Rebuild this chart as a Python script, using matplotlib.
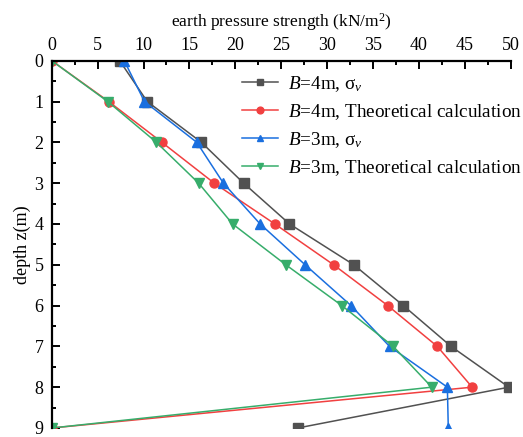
import matplotlib
matplotlib.use("Agg")
import matplotlib.pyplot as plt
import numpy as np

plt.rcParams['font.family'] = ['Liberation Serif', 'DejaVu Serif']
plt.rcParams['mathtext.fontset'] = 'custom'
plt.rcParams['mathtext.rm'] = 'Liberation Serif'
plt.rcParams['mathtext.it'] = 'Liberation Serif:italic'

# depth (m)
depth = [0, 1, 2, 3, 4, 5, 6, 7, 8, 9]

# earth pressure strength (kN/m2)
b4_sigma = [7.4, 10.4, 16.3, 20.9, 25.9, 32.9, 38.3, 43.5, 49.8, 26.8]
b4_theory = [0, 6.2, 12.0, 17.7, 24.3, 30.7, 36.6, 42.0, 45.8, 0]
b3_sigma = [7.9, 10.1, 15.8, 18.7, 22.7, 27.6, 32.6, 36.8, 43.1, 43.2]
b3_theory = [0, 6.1, 11.4, 16.0, 19.7, 25.5, 31.6, 37.2, 41.4, 0]

labels = [r'$B$=4m, σ$_v$', r'$B$=4m, Theoretical calculation',
          r'$B$=3m, σ$_v$', r'$B$=3m, Theoretical calculation']
colors = ['#515151', '#F14040', '#1A6FDF', '#37AD6B']
markers = ['s', 'o', '^', 'v']

fig = plt.figure(figsize=(5.23, 4.37), dpi=100)
ax = fig.add_axes([0.0989, 0.0206, 0.8776, 0.8405])

series = [b4_sigma, b4_theory, b3_sigma, b3_theory]
for vals, lab, c, m in zip(series, labels, colors, markers):
    ax.plot(vals, depth, color=c, marker=m, markersize=6.5, linewidth=1.1,
            label=lab, zorder=3)

ax.set_xlim(0, 50)
ax.set_ylim(9, 0)
ax.xaxis.tick_top()
ax.xaxis.set_label_position('top')
ax.set_xticks(np.arange(0, 51, 5))
ax.set_xticks(np.arange(0, 51, 2.5), minor=True)
ax.set_yticks(np.arange(0, 10, 1))
ax.set_yticks(np.arange(0, 9.1, 0.5), minor=True)
ax.tick_params(which='both', direction='in', width=1.4, labelsize=13,
               top=True, bottom=False, left=True, right=False)
ax.tick_params(which='major', length=5.5)
ax.tick_params(which='minor', length=3)
ax.tick_params(axis='x', pad=4.5)
ax.tick_params(axis='y', pad=6)
ax.spines['right'].set_visible(False)
ax.spines['bottom'].set_visible(False)
ax.spines['top'].set_linewidth(1.6)
ax.spines['left'].set_linewidth(1.6)
ax.spines['top'].set_zorder(4)
ax.spines['left'].set_zorder(4)

ax.set_xlabel('earth pressure strength (kN/m$^2$)', fontsize=12.5, labelpad=8)
ax.set_ylabel('depth z(m)', fontsize=13, labelpad=2)

ax.legend(loc='upper left', bbox_to_anchor=(0.4627, 0.83),
          bbox_transform=fig.transFigure, frameon=False, borderpad=0,
          borderaxespad=0, fontsize=13.8, handlelength=1.9, handletextpad=0.5,
          labelspacing=0.42, markerscale=0.75)

fig.savefig('out.png', dpi=100)
